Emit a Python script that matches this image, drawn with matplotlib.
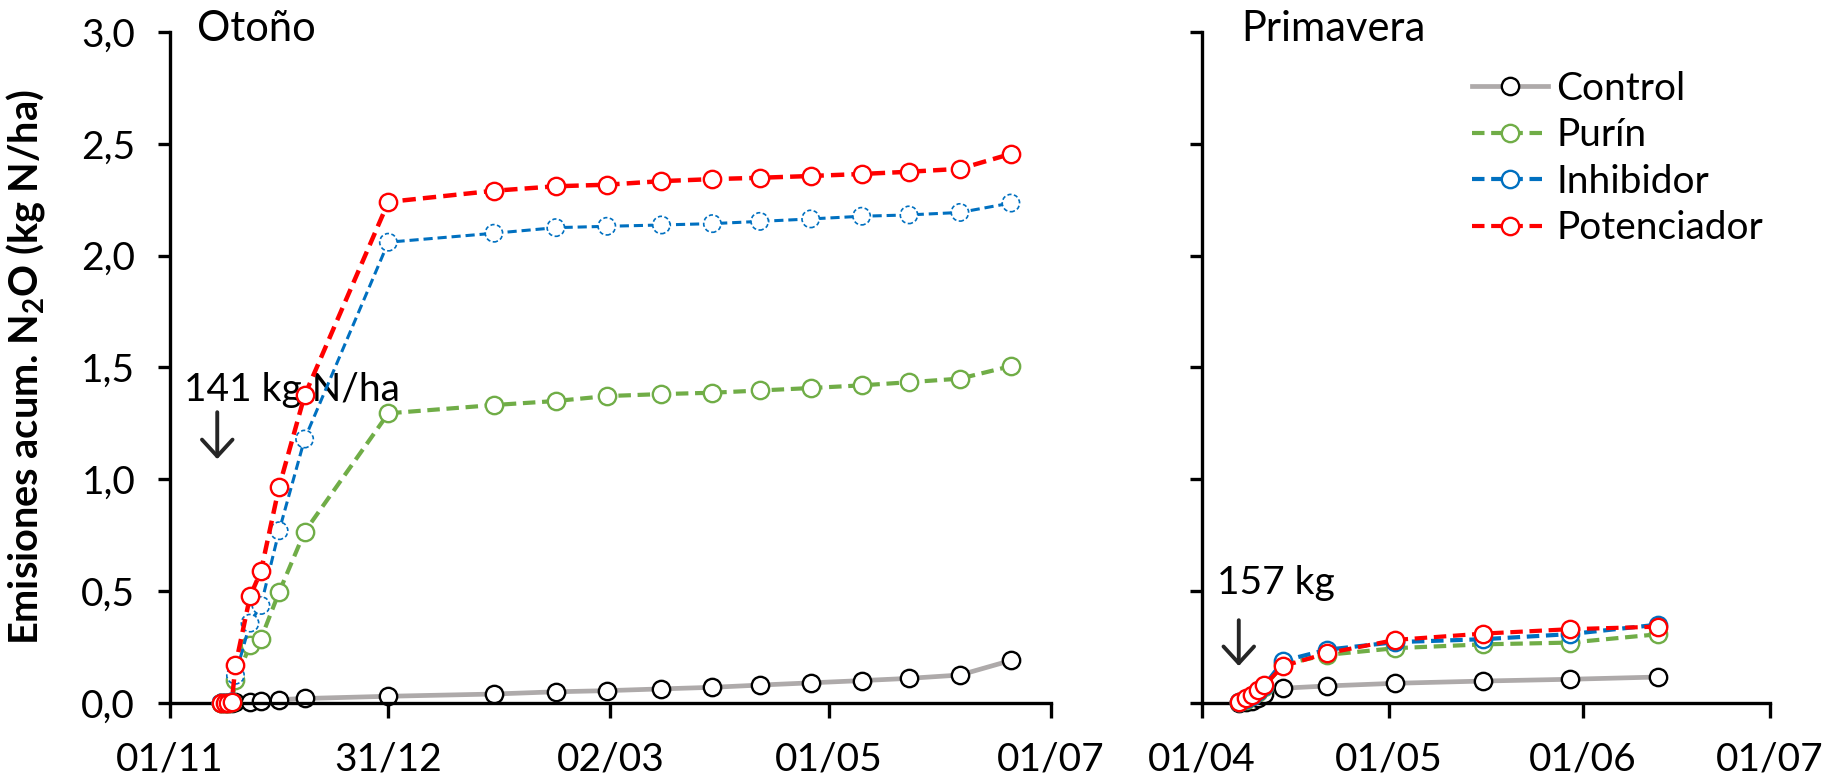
import numpy as np
import matplotlib.pyplot as plt
from matplotlib.ticker import FuncFormatter

plt.rcParams['font.family'] = ['Lato', 'DejaVu Sans']
plt.rcParams['mathtext.fontset'] = 'custom'
plt.rcParams['mathtext.rm'] = 'Lato'
plt.rcParams['mathtext.bf'] = 'Lato:bold'

# Otoño: days after 01/11
dias_oto = [14, 15, 16, 17, 18, 22, 25, 30, 37, 60, 89, 106, 120, 135, 149, 162, 176, 190, 203, 217, 231]
control_oto = [0, 0, 0, 0, 0.005, 0.005, 0.01, 0.015, 0.02, 0.03, 0.04, 0.05, 0.055, 0.063,
               0.07, 0.08, 0.09, 0.10, 0.11, 0.125, 0.19]
purin_oto = [0, 0, 0, 0.005, 0.101, 0.258, 0.287, 0.496, 0.765, 1.295, 1.332, 1.35, 1.372,
             1.381, 1.387, 1.397, 1.408, 1.42, 1.434, 1.45, 1.506]
inhib_oto = [0, 0, 0, 0.005, 0.124, 0.357, 0.436, 0.77, 1.18, 2.06, 2.10, 2.125, 2.131, 2.137,
             2.143, 2.153, 2.164, 2.176, 2.182, 2.193, 2.235]
poten_oto = [0, 0, 0, 0.005, 0.168, 0.476, 0.589, 0.967, 1.375, 2.24, 2.29, 2.31, 2.317, 2.333,
             2.342, 2.348, 2.356, 2.365, 2.375, 2.388, 2.455]

# Primavera: days after 01/04
dias_pri = [6, 7, 8, 9, 10, 13, 20, 31, 45, 59, 73]
control_pri = [0, 0.005, 0.01, 0.02, 0.04, 0.066, 0.076, 0.088, 0.098, 0.106, 0.116]
purin_pri = [0.003, 0.015, 0.03, 0.05, 0.072, 0.173, 0.215, 0.245, 0.262, 0.27, 0.307]
inhib_pri = [0.004, 0.018, 0.033, 0.055, 0.078, 0.188, 0.238, 0.272, 0.285, 0.308, 0.35]
poten_pri = [0.005, 0.02, 0.035, 0.058, 0.08, 0.165, 0.222, 0.282, 0.31, 0.33, 0.341]

ticks_oto = [0, 60, 121, 181, 242]
labels_oto = ['01/11', '31/12', '02/03', '01/05', '01/07']
ticks_pri = [0, 30, 61, 91]
labels_pri = ['01/04', '01/05', '01/06', '01/07']

c_control = '#AEAAAA'
c_purin = '#70AD47'
c_inhib = '#0070C0'
c_poten = '#FF0000'
fs = 28

fig = plt.figure(figsize=(18.37, 7.79), dpi=100)
ax1 = fig.add_axes([0.0925, 0.0976, 0.4796, 0.8614])
ax2 = fig.add_axes([0.6543, 0.0976, 0.3092, 0.8614])


def estilo(ax, ticks, labels, xmax):
    for s in ['top', 'right']:
        ax.spines[s].set_visible(False)
    for s in ['left', 'bottom']:
        ax.spines[s].set_linewidth(2.4)
    ax.set_xlim(0, xmax)
    ax.set_ylim(0, 3.0)
    ax.set_xticks(ticks)
    ax.set_xticklabels(labels)
    ax.set_yticks(np.arange(0, 3.01, 0.5))
    ax.tick_params(axis='x', length=11, width=2.4, pad=17, labelsize=fs)
    ax.tick_params(axis='y', length=9, width=2.4, pad=16, labelsize=fs)


estilo(ax1, ticks_oto, labels_oto, 242)
estilo(ax2, ticks_pri, labels_pri, 91)
ax1.yaxis.set_major_formatter(FuncFormatter(lambda v, p: f'{v:.1f}'.replace('.', ',')))
ax2.set_yticklabels([])

mk = dict(marker='o', markersize=12.5, markerfacecolor='white', markeredgewidth=1.7, clip_on=False)
dsh = (3, 1.6)

# Otoño
ax1.plot(dias_oto, control_oto, color=c_control, lw=3.4, markeredgecolor='black', zorder=2, **mk)
ax1.plot(dias_oto, purin_oto, color=c_purin, lw=3.0, dashes=dsh, markeredgecolor=c_purin, zorder=3, **mk)
ax1.plot(dias_oto, inhib_oto, color=c_inhib, lw=2.2, dashes=dsh, zorder=4, clip_on=False)
ax1.scatter(dias_oto, inhib_oto, s=156, facecolors='white', edgecolors=c_inhib, linewidths=1.2,
            linestyle=(0, (2.5, 1.5)), zorder=4.5, clip_on=False)
ax1.plot(dias_oto, poten_oto, color=c_poten, lw=3.2, dashes=dsh, markeredgecolor=c_poten, zorder=5, **mk)

# Primavera
ax2.plot(dias_pri, control_pri, color=c_control, lw=3.4, markeredgecolor='black', zorder=2,
         label='Control', **mk)
ax2.plot(dias_pri, purin_pri, color=c_purin, lw=3.0, dashes=dsh, markeredgecolor=c_purin, zorder=3,
         label='Purín', **mk)
ax2.plot(dias_pri, inhib_pri, color=c_inhib, lw=3.0, dashes=dsh, markeredgecolor=c_inhib, zorder=4,
         label='Inhibidor', **mk)
ax2.plot(dias_pri, poten_pri, color=c_poten, lw=3.0, dashes=dsh, markeredgecolor=c_poten, zorder=5,
         label='Potenciador', **mk)

ax1.set_ylabel(r'Emisiones acum. N$_{\mathbf{2}}$O (kg N/ha)', fontsize=28.5, fontweight='bold')
ax1.yaxis.set_label_coords(-0.14, 0.5)

ax1.text(0.031, 1.004, 'Otoño', transform=ax1.transAxes, fontsize=30, va='center', ha='left')
ax2.text(0.07, 1.004, 'Primavera', transform=ax2.transAxes, fontsize=30, va='center', ha='left')

flecha = dict(arrowstyle='->, head_length=1.2, head_width=1.1', lw=2.8, color='#262626',
              shrinkA=0, shrinkB=0)
ax1.text(4, 1.35, '141 kg N/ha', fontsize=fs, va='baseline', ha='left')
ax1.annotate('', xy=(13, 1.09), xytext=(13, 1.30), arrowprops=flecha)
ax2.text(2.4, 0.487, '157 kg', fontsize=fs, va='baseline', ha='left')
ax2.annotate('', xy=(5.9, 0.165), xytext=(5.9, 0.37), arrowprops=flecha)

ax2.legend(loc='upper left', bbox_to_anchor=(0.475, 0.942), frameon=False, fontsize=fs,
           handlelength=1.97, handletextpad=0.21, labelspacing=0.27, borderaxespad=0, borderpad=0,
           numpoints=1)

fig.savefig('out.png', dpi=100)
